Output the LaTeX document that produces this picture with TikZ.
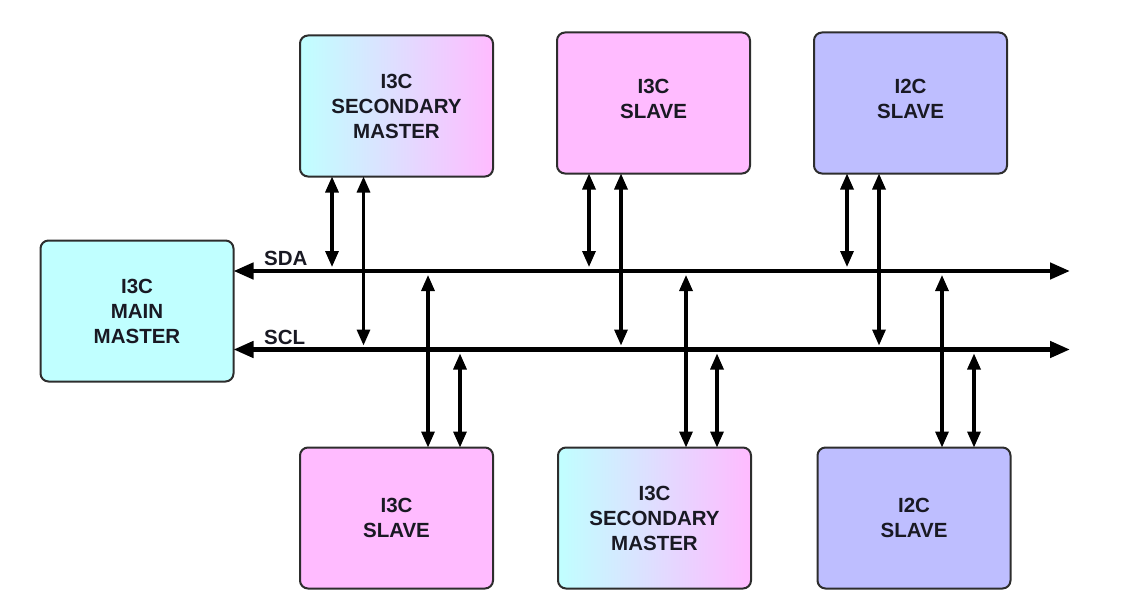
\documentclass[tikz,border=0pt]{standalone}
\usepackage{fontspec}
\setmainfont{Liberation Sans}
\usetikzlibrary{arrows.meta}
\definecolor{cyanbox}{RGB}{192,255,255}
\definecolor{pinkbox}{RGB}{255,187,255}
\definecolor{lavbox}{RGB}{190,190,255}
\definecolor{edge}{RGB}{45,45,45}
\definecolor{txt}{RGB}{25,25,35}
\tikzset{
  box/.style={draw=edge, line width=2pt, rounded corners=8pt, minimum width=193pt,
    minimum height=141pt, align=center, inner sep=0pt, outer sep=0pt,
    font=\bfseries\fontsize{20.5}{25}\selectfont, text=txt},
  boxtext/.style={align=center, inner sep=0pt, font=\bfseries\fontsize{20.5}{25}\selectfont, text=txt},
  mainbox/.style={box, fill=cyanbox},
  slavebox/.style={box, fill=pinkbox},
  itwobox/.style={box, fill=lavbox},
  secbox/.style={box, left color=cyanbox, right color=pinkbox},
  busboth/.style={line width=4.5pt, {Triangle[length=20pt,width=16pt]}-{Triangle[length=20pt,width=16pt]}},
  link/.style={line width=3.2pt, {Triangle[length=16pt,width=13pt]}-{Triangle[length=16pt,width=13pt]}, shorten >=1.5pt},
  buslabel/.style={font=\bfseries\fontsize{20.5}{25}\selectfont, text=txt, anchor=base west, inner sep=0pt}
}
\begin{document}
\begin{tikzpicture}[x=1pt,y=-1pt]
\useasboundingbox (0,0) rectangle (1138,610);
% boxes
\node[mainbox] (mm) at (137,311) {I3C\\MAIN\\MASTER};
\node[secbox] (t1) at (396.5,106) {I3C\\SECONDARY\\MASTER};
\node[slavebox] (t2) at (653.5,103) {};
\node[boxtext] (t2t) at ([yshift=4pt]t2.center) {I3C\\SLAVE};
\node[itwobox] (t3) at (910.5,103) {};
\node[boxtext] (t3t) at ([yshift=4pt]t3.center) {I2C\\SLAVE};
\node[slavebox] (b1) at (396.5,518) {I3C\\SLAVE};
\node[secbox] (b2) at (654.5,518) {I3C\\SECONDARY\\MASTER};
\node[itwobox] (b3) at (914,518) {I2C\\SLAVE};
% bus ends
\coordinate (sdaend) at (1070,271);
\coordinate (sclend) at (1070,349.5);
\draw[busboth] (mm.east |- sdaend) -- (sdaend);
\draw[busboth] (mm.east |- sclend) -- (sclend);
\node[buslabel] (sdalbl) at (264,265) {SDA};
\node[buslabel] (scllbl) at (264,344) {SCL};
% bus tap points
\coordinate (a1) at (332,268.5);
\coordinate (c1) at (363.5,347);
\coordinate (a2) at (589,268.5);
\coordinate (c2) at (621,347);
\coordinate (a3) at (847,268.5);
\coordinate (c3) at (879,347);
\coordinate (d1) at (428,273.5);
\coordinate (e1) at (460,352);
\coordinate (d2) at (686,273.5);
\coordinate (e2) at (717,352);
\coordinate (d3) at (942,273.5);
\coordinate (e3) at (974,352);
% top links
\draw[link] (t1.south -| a1) -- (a1);
\draw[link] (t1.south -| c1) -- (c1);
\draw[link] (t2.south -| a2) -- (a2);
\draw[link] (t2.south -| c2) -- (c2);
\draw[link] (t3.south -| a3) -- (a3);
\draw[link] (t3.south -| c3) -- (c3);
% bottom links
\draw[link] (b1.north -| d1) -- (d1);
\draw[link] (b1.north -| e1) -- (e1);
\draw[link] (b2.north -| d2) -- (d2);
\draw[link] (b2.north -| e2) -- (e2);
\draw[link] (b3.north -| d3) -- (d3);
\draw[link] (b3.north -| e3) -- (e3);
\end{tikzpicture}
\end{document}
